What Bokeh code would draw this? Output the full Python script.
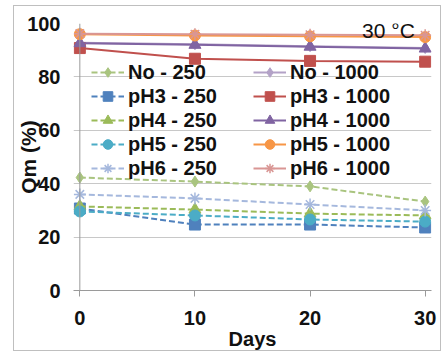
from bokeh.plotting import figure
from bokeh.models import Legend, LegendItem, Label, Range1d, FixedTicker, Span
from bokeh.embed import file_html
from bokeh.resources import INLINE

# ---- data ----
days = [0, 10, 20, 30]
x_ticks = [0, 10, 20, 30]
y_ticks = [0, 20, 40, 60, 80, 100]

no_250 = [42.3, 40.8, 39.0, 33.3]
no_1000 = [92.8, 92.2, 91.5, 90.8]
ph3_250 = [30.7, 24.7, 24.7, 23.6]
ph3_1000 = [90.8, 86.8, 86.0, 85.7]
ph4_250 = [31.5, 30.3, 28.8, 28.1]
ph4_1000 = [92.6, 92.0, 91.3, 90.6]
ph5_250 = [29.6, 28.1, 26.6, 25.8]
ph5_1000 = [96.0, 95.5, 95.2, 94.9]
ph6_250 = [36.0, 34.5, 32.2, 30.0]
ph6_1000 = [96.2, 96.0, 95.8, 95.6]

series_names = ["No - 250", "No - 1000", "pH3 - 250", "pH3 - 1000",
                "pH4 - 250", "pH4 - 1000", "pH5 - 250", "pH5 - 1000",
                "pH6 - 250", "pH6 - 1000"]
series_values = [no_250, no_1000, ph3_250, ph3_1000, ph4_250, ph4_1000,
                 ph5_250, ph5_1000, ph6_250, ph6_1000]
series_colors = ["#A9C47F", "#B3A2C7", "#4F81BD", "#C0504D", "#9BBB59",
                 "#8064A2", "#4BACC6", "#F79646", "#A5B8DD", "#D99694"]
series_markers = ["diamond", "diamond", "square", "square", "triangle",
                  "triangle", "circle", "circle", "asterisk", "asterisk"]

FONT = "Liberation Sans"
AXIS_COLOR = "#9A9A9A"

p = figure(width=428, height=346, output_backend="svg", toolbar_location=None,
           x_range=Range1d(-0.55, 30.55), y_range=Range1d(0, 100),
           min_border_left=59, min_border_right=11, min_border_top=17,
           min_border_bottom=62)
p.margin = (5, 0, 0, 13)
p.styles = {"border": "1px solid #BFBFBF"}
p.outline_line_color = None
p.background_fill_color = "white"
p.border_fill_color = "white"

p.xgrid.visible = False
p.ygrid.grid_line_color = "#C8C8C8"
p.ygrid.grid_line_width = 1
p.xaxis.ticker = FixedTicker(ticks=x_ticks)
p.yaxis.ticker = FixedTicker(ticks=y_ticks)

for ax in (p.xaxis[0], p.yaxis[0]):
    ax.axis_line_color = AXIS_COLOR
    ax.major_tick_line_color = AXIS_COLOR
    ax.minor_tick_line_color = None
    ax.major_tick_out = 6
    ax.major_tick_in = 0
    ax.major_label_text_font = FONT
    ax.major_label_text_font_style = "bold"
    ax.major_label_text_font_size = "20px"
    ax.major_label_text_color = "#111111"
    ax.axis_label_text_font = FONT
    ax.axis_label_text_font_style = "bold"
    ax.axis_label_text_color = "#111111"

# y axis: the vertical line sits at day 0; the gridlines stick out as ticks
p.yaxis.axis_line_color = None
p.yaxis.major_tick_line_color = None
p.yaxis.major_tick_out = 0
p.yaxis.major_label_standoff = 13
p.yaxis.axis_label = "Qm (%)"
p.yaxis.axis_label_standoff = -16
p.yaxis.axis_label_text_font_size = "21px"
p.add_layout(Span(location=0, dimension="height", line_color=AXIS_COLOR, line_width=1))

p.xaxis.major_label_standoff = 14
p.xaxis.axis_label = "Days"
p.xaxis.axis_label_standoff = 0
p.xaxis.axis_label_text_font_size = "20px"

items = {}
for name, vals, col, mk in zip(series_names, series_values, series_colors, series_markers):
    dashed = name.endswith("- 250")
    lr = p.line(days, vals, line_color=col, line_width=2,
                line_dash="6 3" if dashed else "solid")
    if mk == "asterisk":
        sr = p.scatter(days, vals, marker=mk, size=12, line_color=col, line_width=1.5)
    else:
        sr = p.scatter(days, vals, marker=mk, size=11 if mk != "triangle" else 12,
                       fill_color=col, line_color=col)
    items[name] = LegendItem(label=name, renderers=[lr, sr])

order = [n for n in series_names if n.endswith("- 250")] + \
        [n for n in series_names if n.endswith("- 1000")]
legend = Legend(items=[items[n] for n in order], location=(18, 110), ncols=2,
                glyph_width=33, glyph_height=24, label_height=24, label_width=125,
                label_standoff=4, spacing=0, padding=0, margin=0,
                border_line_color=None, background_fill_alpha=0,
                label_text_font=FONT, label_text_font_style="bold",
                label_text_font_size="20px", label_text_color="#111111")
p.add_layout(legend)

p.add_layout(Label(x=29.1, y=97.4, text="30 °C", text_align="right",
                   text_baseline="alphabetic", text_font=FONT,
                   text_font_size="21px", text_color="#111111"))

open("out.html", "w").write(file_html(p, INLINE))
